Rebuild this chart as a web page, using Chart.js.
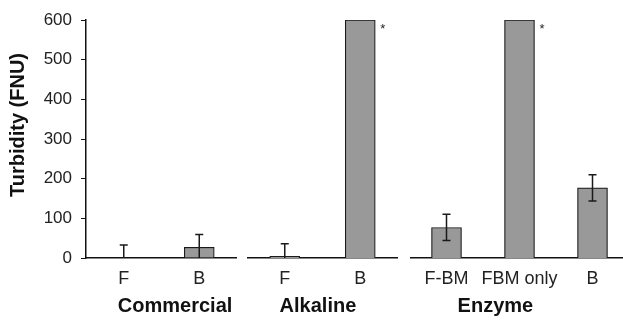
<!DOCTYPE html>
<html lang="en">
<head>
    <meta charset="UTF-8">
    <title>Turbidity</title>
    <script src="https://cdn.jsdelivr.net/npm/chart.js"></script>
    <style>
        body {
            margin: 0;
            background: #fff;
            font-family: 'Liberation Sans', Arial, sans-serif;
        }
        .wrap {
            position: relative;
            width: 623px;
            height: 320px;
            overflow: hidden;
        }
        .panel {
            position: absolute;
            top: 0;
            height: 320px;
        }
        #p1 { left: 0; width: 237px; }
        #p2 { left: 247px; width: 151px; }
        #p3 { left: 410px; width: 219px; }
    </style>
</head>
<body>
    <div class="wrap">
        <div class="panel" id="p1"><canvas id="c1"></canvas></div>
        <div class="panel" id="p2"><canvas id="c2"></canvas></div>
        <div class="panel" id="p3"><canvas id="c3"></canvas></div>
    </div>

    <script>
        // values (FNU)
        const groups = ["Commercial", "Alkaline", "Enzyme"];

        const commercialLabels = ["F", "B"];
        const commercialValues = [0, 27];
        const commercialErrors = [33, 32];
        const commercialNotes = ["", ""];

        const alkalineLabels = ["F", "B"];
        const alkalineValues = [4, 600];
        const alkalineErrors = [32, 0];
        const alkalineNotes = ["", "*"];

        const enzymeLabels = ["F-BM", "FBM only", "B"];
        const enzymeValues = [77, 600, 177];
        const enzymeErrors = [33, 0, 33];
        const enzymeNotes = ["", "*", ""];

        const yMin = 0, yMax = 600, yStep = 100;
        const yTitle = "Turbidity (FNU)";

        const FONT = "'Liberation Sans', Arial, sans-serif";

        // error bars, asterisks, group names, y title
        const extras = {
            id: "extras",
            afterDatasetsDraw(chart, args, opts) {
                const ctx = chart.ctx;
                const y = chart.scales.y;
                const meta = chart.getDatasetMeta(0);
                ctx.save();
                ctx.strokeStyle = "#1a1a1a";
                ctx.lineWidth = 1.5;
                meta.data.forEach((bar, i) => {
                    const v = chart.data.datasets[0].data[i];
                    const e = opts.errors[i];
                    if (e > 0) {
                        const top = y.getPixelForValue(v + e);
                        const bot = y.getPixelForValue(Math.max(yMin, v - e));
                        ctx.beginPath();
                        ctx.moveTo(bar.x, top);
                        ctx.lineTo(bar.x, bot);
                        ctx.moveTo(bar.x - 4, top);
                        ctx.lineTo(bar.x + 4, top);
                        if (v - e > yMin) {
                            ctx.moveTo(bar.x - 4, bot);
                            ctx.lineTo(bar.x + 4, bot);
                        }
                        ctx.stroke();
                    }
                    if (opts.notes[i]) {
                        ctx.fillStyle = "#222";
                        ctx.font = "13px " + FONT;
                        ctx.textAlign = "left";
                        ctx.textBaseline = "top";
                        ctx.fillText(opts.notes[i], bar.x + bar.width / 2 + 5, bar.y + 3);
                    }
                });
                const area = chart.chartArea;
                ctx.fillStyle = "#111";
                ctx.font = "bold 20px " + FONT;
                ctx.textAlign = "center";
                ctx.textBaseline = "alphabetic";
                ctx.fillText(opts.group, area.left + opts.groupAt * (area.right - area.left), 312);
                if (opts.yTitle) {
                    ctx.translate(18, 125);
                    ctx.rotate(-Math.PI / 2);
                    ctx.textBaseline = "middle";
                    ctx.fillText(opts.yTitle, 0, 0);
                }
                ctx.restore();
            }
        };

        function makeChart(id, labels, values, errors, notes, group, groupAt, showY) {
            return new Chart(document.getElementById(id), {
                type: "bar",
                data: {
                    labels: labels,
                    datasets: [{
                        data: values,
                        backgroundColor: "#999999",
                        borderColor: "#1a1a1a",
                        borderWidth: 1.2,
                        barThickness: 30
                    }]
                },
                plugins: [extras],
                options: {
                    responsive: true,
                    maintainAspectRatio: false,
                    animation: false,
                    layout: { padding: { top: 20, right: 0, bottom: 0, left: 0 } },
                    plugins: {
                        legend: { display: false },
                        tooltip: { enabled: false },
                        extras: {
                            errors: errors,
                            notes: notes,
                            group: group,
                            groupAt: groupAt,
                            yTitle: showY ? yTitle : ""
                        }
                    },
                    scales: {
                        x: {
                            grid: { display: false, drawTicks: false },
                            border: { display: true, color: "#111", width: 1.5 },
                            ticks: {
                                color: "#222",
                                padding: 10,
                                maxRotation: 0,
                                autoSkip: false,
                                font: { family: FONT, size: 18 }
                            },
                            afterFit: (axis) => { axis.height = 62; }
                        },
                        y: {
                            display: showY,
                            min: yMin,
                            max: yMax,
                            grid: {
                                drawOnChartArea: false,
                                drawTicks: true,
                                tickLength: 5,
                                color: "#111"
                            },
                            border: { display: true, color: "#111", width: 1.5 },
                            ticks: {
                                stepSize: yStep,
                                color: "#222",
                                padding: 9,
                                font: { family: FONT, size: 17 }
                            },
                            afterFit: (axis) => { axis.width = showY ? 86 : 0; }
                        }
                    }
                }
            });
        }

        makeChart("c1", commercialLabels, commercialValues, commercialErrors, commercialNotes, groups[0], 0.59, true);
        makeChart("c2", alkalineLabels, alkalineValues, alkalineErrors, alkalineNotes, groups[1], 0.47, false);
        makeChart("c3", enzymeLabels, enzymeValues, enzymeErrors, enzymeNotes, groups[2], 0.39, false);
    </script>
</body>
</html>
